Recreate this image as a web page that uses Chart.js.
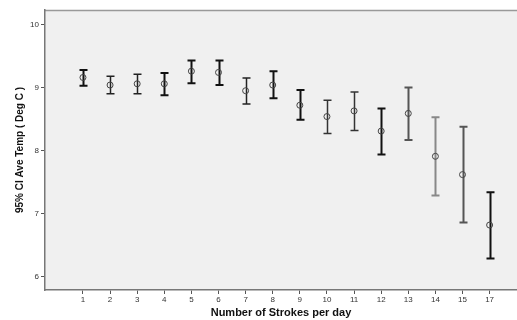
<!DOCTYPE html>
<html>
<head>
<meta charset="utf-8">
<script src="https://cdn.jsdelivr.net/npm/chart.js@4"></script>
<style>
  html, body { margin: 0; padding: 0; background: #fff; }
  #wrap { width: 517px; height: 320px; }
</style>
</head>
<body>
<div id="wrap"><canvas id="chart" width="517" height="320"></canvas></div>
<script>
// strokes per day (categories on the x axis)
var strokes = ['1', '2', '3', '4', '5', '6', '7', '8', '9', '10', '11', '12', '13', '14', '15', '17'];
// mean temperature and 95% CI bounds
var means = [9.16, 9.04, 9.06, 9.06, 9.26, 9.24, 8.95, 9.04, 8.72, 8.54, 8.63, 8.31, 8.59, 7.91, 7.62, 6.82];
var lower = [9.03, 8.90, 8.90, 8.88, 9.07, 9.04, 8.74, 8.83, 8.49, 8.27, 8.32, 7.94, 8.17, 7.29, 6.86, 6.29];
var upper = [9.28, 9.18, 9.21, 9.23, 9.43, 9.43, 9.15, 9.26, 8.96, 8.80, 8.93, 8.67, 9.00, 8.53, 8.38, 7.34];
var yTicks = [6, 7, 8, 9, 10];

// bar styles
var barColors = ['#111', '#222', '#222', '#111', '#111', '#111', '#222', '#111', '#111', '#333', '#333', '#111', '#555', '#888', '#555', '#111'];
var barWidths = [2, 1.5, 1.5, 2, 2, 2, 1.5, 2, 2, 1.5, 1.5, 2, 2, 2, 2, 2];

var points = means.map(function (m, i) { return { x: i, y: m }; });

// plot background + top border
var bgPlugin = {
    id: 'bg',
    beforeDraw: function (chart) {
        var ctx = chart.ctx, a = chart.chartArea;
        ctx.save();
        ctx.fillStyle = '#f0f0f0';
        ctx.fillRect(a.left, a.top, a.right - a.left, a.bottom - a.top);
        ctx.strokeStyle = '#999';
        ctx.lineWidth = 1.5;
        ctx.beginPath();
        ctx.moveTo(a.left, a.top + 0.5);
        ctx.lineTo(a.right, a.top + 0.5);
        ctx.stroke();
        ctx.restore();
    }
};

// error bars drawn from the scales
var errPlugin = {
    id: 'errbars',
    beforeDatasetsDraw: function (chart) {
        var ctx = chart.ctx;
        var xs = chart.scales.x, ys = chart.scales.y;
        ctx.save();
        for (var i = 0; i < means.length; i++) {
            var x = Math.round(xs.getPixelForValue(i)) + 0.5;
            var y1 = ys.getPixelForValue(upper[i]);
            var y2 = ys.getPixelForValue(lower[i]);
            ctx.strokeStyle = barColors[i];
            ctx.lineWidth = barWidths[i];
            ctx.beginPath();
            ctx.moveTo(x, y1);
            ctx.lineTo(x, y2);
            ctx.moveTo(x - 4, y1);
            ctx.lineTo(x + 4, y1);
            ctx.moveTo(x - 4, y2);
            ctx.lineTo(x + 4, y2);
            ctx.stroke();
        }
        ctx.restore();
    }
};

var ctx = document.getElementById('chart').getContext('2d');
var myChart = new Chart(ctx, {
    type: 'scatter',
    data: {
        datasets: [{
            label: 'Mean',
            data: points,
            pointRadius: 3,
            pointStyle: 'circle',
            backgroundColor: 'rgba(0,0,0,0)',
            borderColor: '#444',
            borderWidth: 1
        }]
    },
    options: {
        responsive: false,
        animation: false,
        layout: { autoPadding: false, padding: { top: 10, left: 0, right: 0, bottom: 0 } },
        plugins: {
            legend: { display: false },
            tooltip: { enabled: false }
        },
        scales: {
            x: {
                type: 'linear',
                min: -1.40,
                max: 16.01,
                afterBuildTicks: function (s) {
                    s.ticks = strokes.map(function (_, i) { return { value: i }; });
                },
                afterFit: function (s) {
                    s.height = 30;
                    s.paddingLeft = 0;
                    s.paddingRight = 0;
                },
                grid: { drawOnChartArea: false, drawTicks: true, tickLength: 4, color: '#555' },
                border: { display: true, color: '#777', width: 1.5 },
                ticks: {
                    padding: 1,
                    color: '#333',
                    font: { family: 'Liberation Sans', size: 8 },
                    maxRotation: 0,
                    callback: function (v) { return strokes[v]; }
                },
                title: {
                    display: true,
                    text: 'Number of Strokes per day',
                    color: '#111',
                    font: { family: 'Liberation Sans', size: 11, weight: 'bold' },
                    padding: { top: 0, bottom: 0 }
                }
            },
            y: {
                min: 5.79,
                max: 10.23,
                afterBuildTicks: function (s) {
                    s.ticks = yTicks.map(function (v) { return { value: v }; });
                },
                afterFit: function (s) {
                    s.width = 45;
                    s.paddingTop = 0;
                    s.paddingBottom = 0;
                },
                grid: { drawOnChartArea: false, drawTicks: true, tickLength: 4, color: '#555' },
                border: { display: true, color: '#777', width: 1.5 },
                ticks: {
                    padding: 2,
                    color: '#333',
                    font: { family: 'Liberation Sans', size: 8 }
                },
                title: {
                    display: true,
                    text: '95% CI Ave Temp ( Deg C )',
                    color: '#111',
                    font: { family: 'Liberation Sans', size: 10, weight: 'bold' },
                    padding: { top: 14, bottom: 0 }
                }
            }
        }
    },
    plugins: [bgPlugin, errPlugin]
});
</script>
</body>
</html>
